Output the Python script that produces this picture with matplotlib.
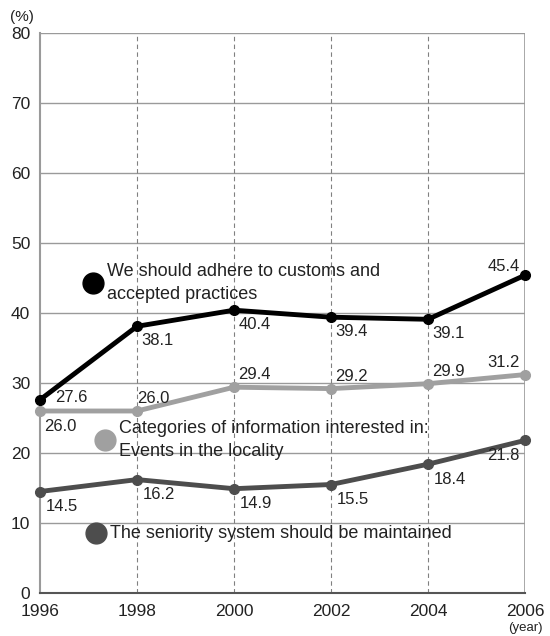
import matplotlib
matplotlib.use("Agg")
import matplotlib.pyplot as plt

plt.rcParams['font.family'] = ['Liberation Sans', 'DejaVu Sans']

years = [1996, 1998, 2000, 2002, 2004, 2006]
customs = [27.6, 38.1, 40.4, 39.4, 39.1, 45.4]
events = [26.0, 26.0, 29.4, 29.2, 29.9, 31.2]
seniority = [14.5, 16.2, 14.9, 15.5, 18.4, 21.8]
yticks = [0, 10, 20, 30, 40, 50, 60, 70, 80]

c_black = '#000000'
c_light = '#a0a0a0'
c_dark = '#4d4d4d'
grid_c = '#9a9a9a'

fig = plt.figure(figsize=(5.5, 6.36), dpi=100)
ax = fig.add_axes([40/550, 1-593/636, 485/550, 560/636])
ax.set_xlim(1996, 2006)
ax.set_ylim(0, 80)

for y in yticks[1:]:
    ax.axhline(y, color=grid_c, lw=1.0, zorder=1)
for x in years[1:-1]:
    ax.axvline(x, color='#808080', lw=0.8, ls=(0, (4, 3)), zorder=1)
ax.axvline(2006, color=grid_c, lw=1.2, zorder=1)

for s in ['top', 'right']:
    ax.spines[s].set_visible(False)
ax.spines['left'].set_color(grid_c)
ax.spines['left'].set_linewidth(1.5)
ax.spines['bottom'].set_color('#555555')
ax.spines['bottom'].set_linewidth(1.5)

ax.plot(years, events, color=c_light, lw=3.5, marker='o', ms=7, zorder=3, clip_on=False)
ax.plot(years, seniority, color=c_dark, lw=3.5, marker='o', ms=7, zorder=3, clip_on=False)
ax.plot(years, customs, color=c_black, lw=3.5, marker='o', ms=7, zorder=4, clip_on=False)

ax.set_xticks(years)
ax.set_xticklabels([str(y) for y in years])
ax.set_yticks(yticks)
ax.tick_params(length=0, labelsize=12.5, colors='#222222')
ax.tick_params(axis='x', pad=8)
ax.tick_params(axis='y', pad=7)

fs = 12
tc = '#222222'
def lab(x, y, s, dx, dy, ha='left', va='center'):
    ax.annotate(s, (x, y), xytext=(dx, dy), textcoords='offset points',
                ha=ha, va=va, fontsize=fs, color=tc, zorder=5)

# customs labels
lab(years[0], customs[0], f'{customs[0]:.1f}', 11, 2)
for i in range(1, 5):
    lab(years[i], customs[i], f'{customs[i]:.1f}', 3, -10)
lab(years[5], customs[5], f'{customs[5]:.1f}', -4, 6, ha='right')

# events labels
lab(years[0], events[0], f'{events[0]:.1f}', 3, -11)
for i in range(1, 5):
    lab(years[i], events[i], f'{events[i]:.1f}', 0 if i == 1 else 3, 9)
lab(years[5], events[5], f'{events[5]:.1f}', -4, 9, ha='right')

# seniority labels
for i in range(0, 5):
    lab(years[i], seniority[i], f'{seniority[i]:.1f}', 4, -11)
lab(years[5], seniority[5], f'{seniority[5]:.1f}', -4, -11, ha='right')

# legend-like annotations
def legend(px, py, color, text):
    xa = (px - 40) / 485
    ya = (593 - py) / 560
    ax.plot([xa], [ya], 'o', color=color, ms=15, transform=ax.transAxes, zorder=5, clip_on=False)
    ax.text(xa + 14/485, ya, text, transform=ax.transAxes, fontsize=13,
            color=tc, va='center', ha='left', linespacing=1.4, zorder=5)

legend(93, 283, c_black, 'We should adhere to customs and\naccepted practices')
legend(105, 440, c_light, 'Categories of information interested in:\nEvents in the locality')
legend(96, 533, c_dark, 'The seniority system should be maintained')

fig.text(10/550, 1-17/636, '(%)', fontsize=11, color=tc, va='center', ha='left')
fig.text(525/550, 1-628/636, '(year)', fontsize=9.5, color=tc, va='center', ha='center')

fig.savefig('out.png', dpi=100)
